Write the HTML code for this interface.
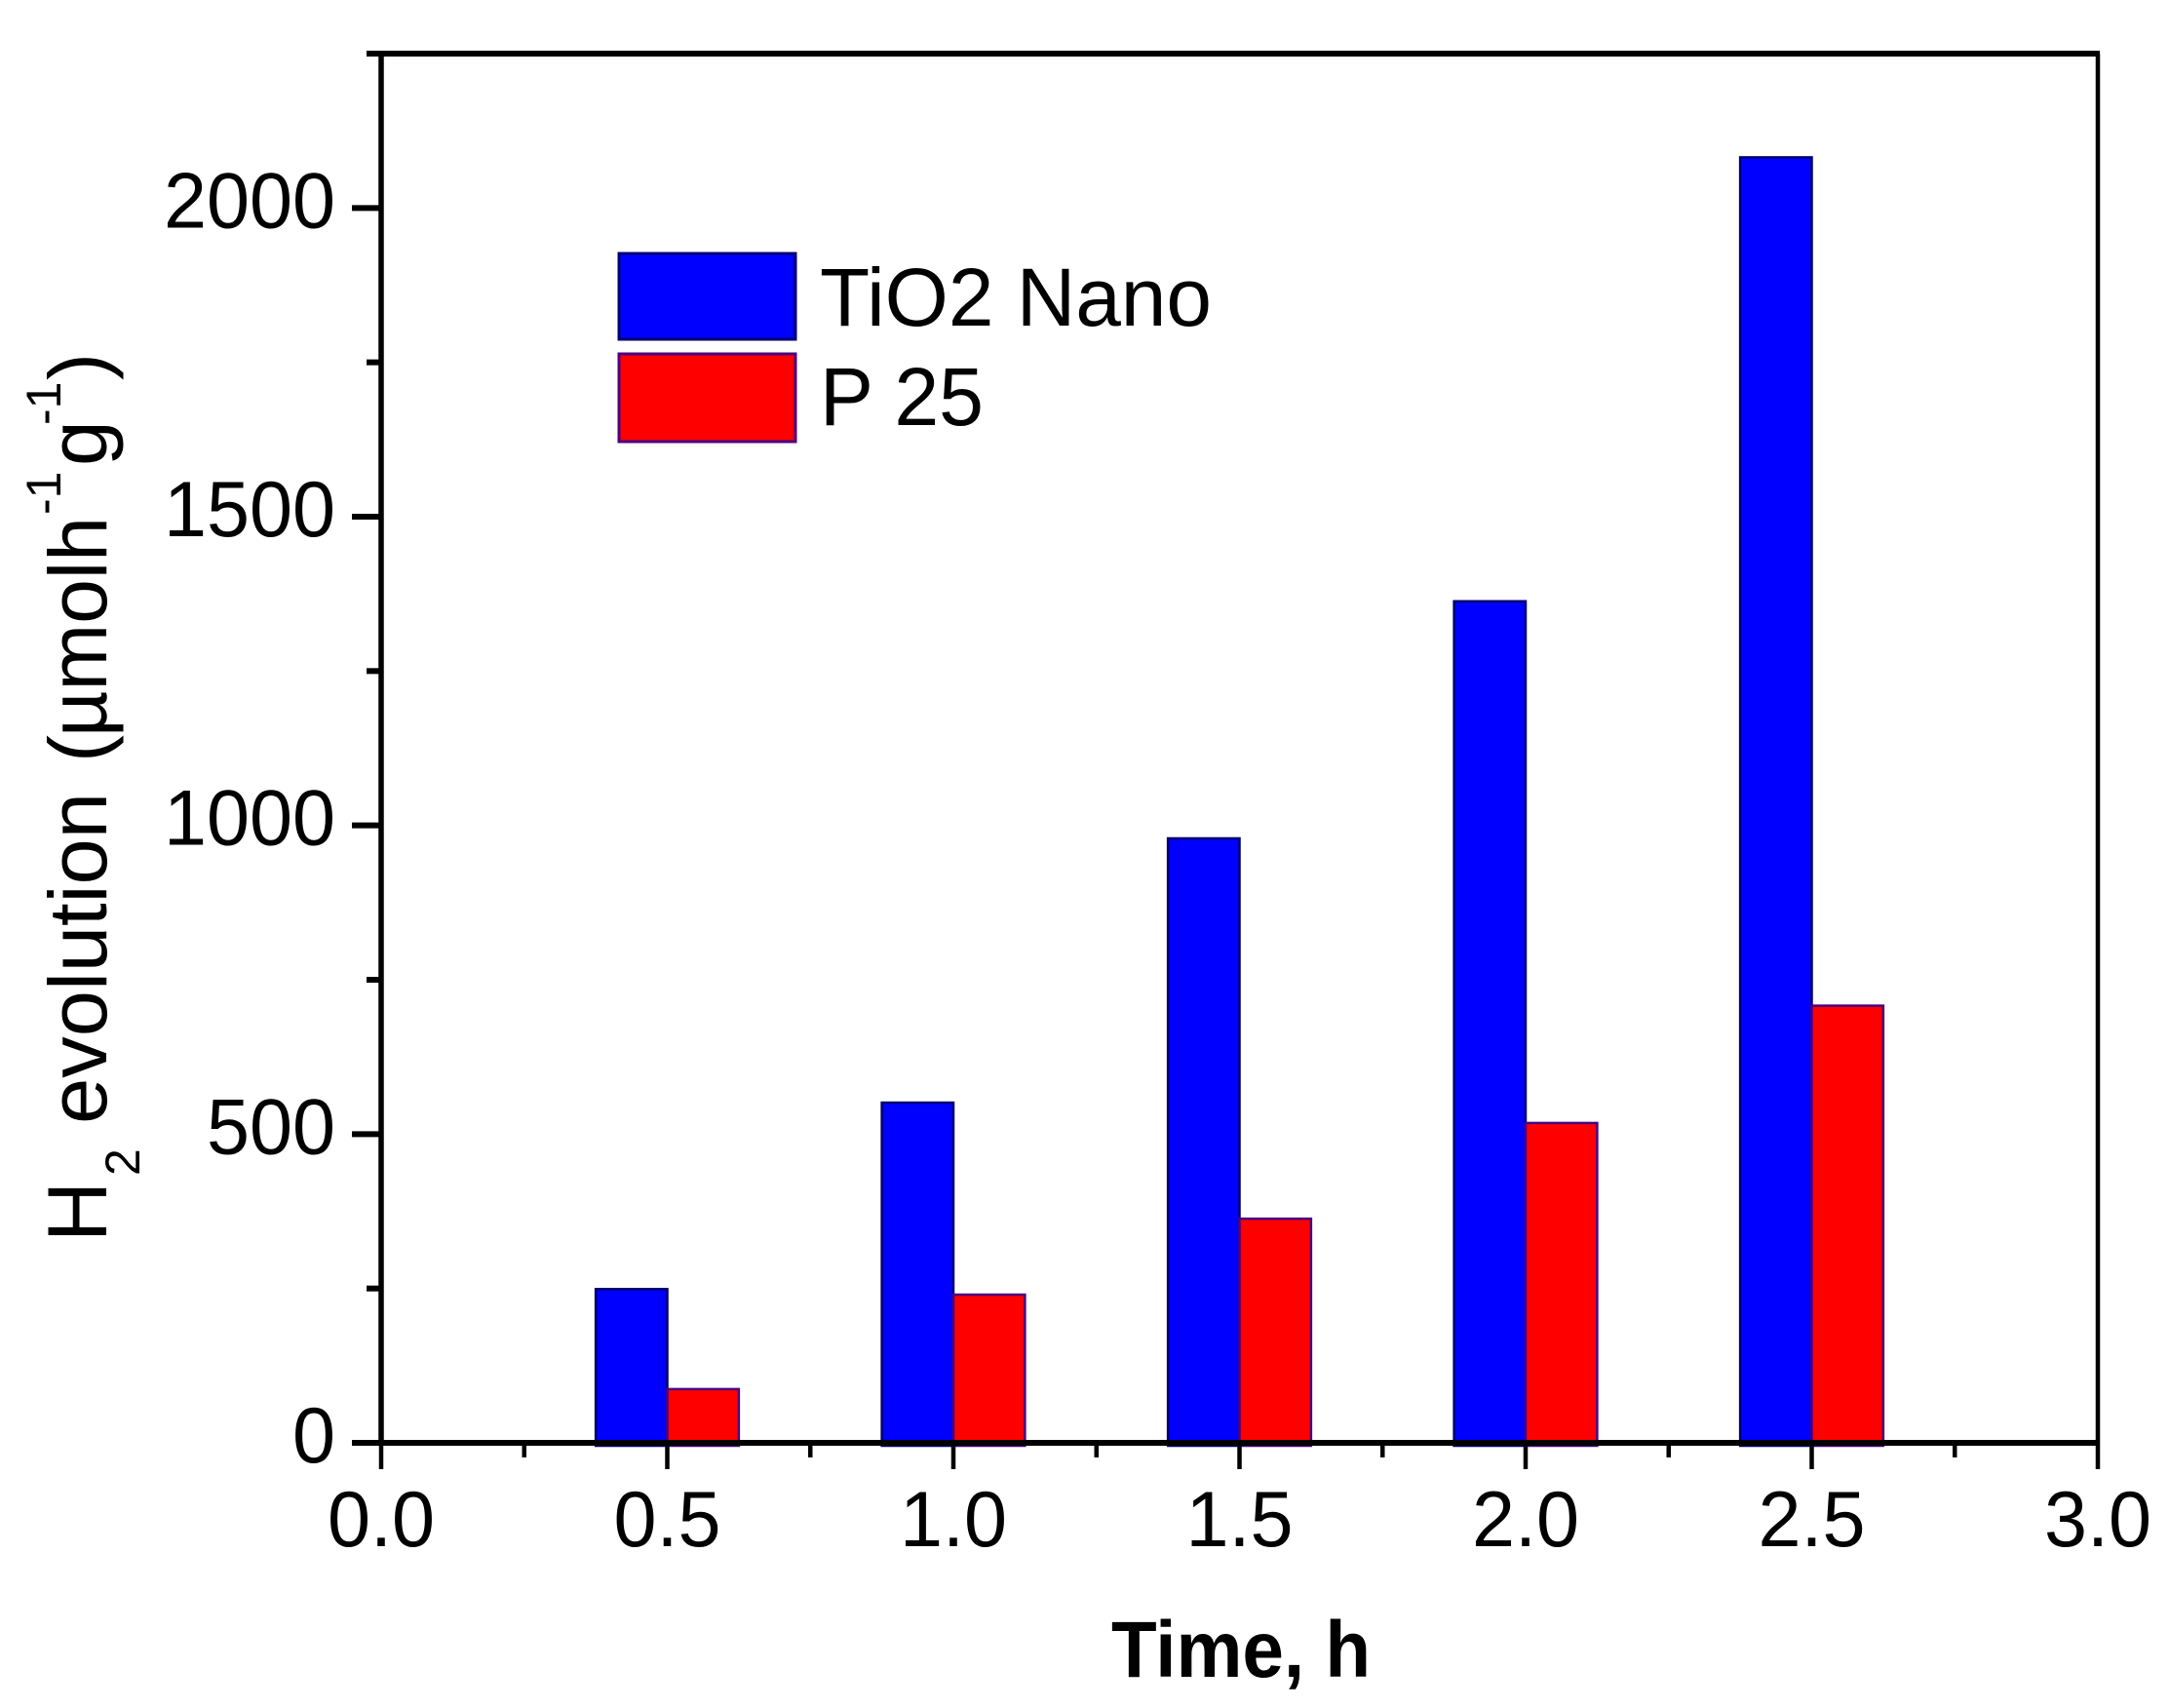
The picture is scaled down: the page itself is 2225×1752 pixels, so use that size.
<!DOCTYPE html>
<html lang="en">
<head>
<meta charset="utf-8">
<title>H2 evolution chart</title>
<style>
  html, body { margin: 0; padding: 0; background: #fff; }
  svg { display: block; }
  text { font-family: "Liberation Sans", sans-serif; fill: #000; }
</style>
</head>
<body>
<svg id="chart" xmlns="http://www.w3.org/2000/svg" width="2225" height="1752" viewBox="0 0 2225 1752">
  <rect x="0" y="0" width="2225" height="1752" fill="#fff"/>
  <g id="bars"></g>
  <g id="axes"></g>
  <g id="tick-labels"></g>

  <g>
    <rect x="635" y="260" width="181" height="88" fill="#0000ff" stroke="#000070" stroke-width="3"/>
    <text x="841" y="334" font-size="84" textLength="402" lengthAdjust="spacingAndGlyphs">TiO2 Nano</text>
    <rect x="635" y="363" width="181" height="90" fill="#ff0000" stroke="#4a0080" stroke-width="3"/>
    <text x="841" y="436" font-size="84" textLength="168" lengthAdjust="spacingAndGlyphs">P 25</text>
  </g>

  <text x="1140" y="1720" font-size="82" font-weight="bold" textLength="266" lengthAdjust="spacingAndGlyphs">Time, h</text>

  <g transform="translate(109,0) rotate(-90)">
    <text x="-1274" y="0" font-size="86">H</text>
    <text x="-1206" y="34" font-size="50">2</text>
    <text x="-1153" y="0" font-size="84" textLength="340" lengthAdjust="spacingAndGlyphs">evolution</text>
    <text x="-782" y="0" font-size="84">(</text>
    <text x="-756" y="0" font-size="84" textLength="226" lengthAdjust="spacingAndGlyphs">µmolh</text>
    <text x="-528" y="-47" font-size="50">-1</text>
    <text x="-478" y="0" font-size="84">g</text>
    <text x="-436" y="-47" font-size="50">-1</text>
    <text x="-390" y="0" font-size="84">)</text>
  </g>
</svg>

<script>
const times = [0.5, 1.0, 1.5, 2.0, 2.5];
const tio2Nano = [249, 551, 979, 1363, 2082];
const p25 = [87, 240, 363, 518, 708];
const xMajorTicks = [0, 0.5, 1, 1.5, 2, 2.5, 3];
const xMinorTicks = [0.25, 0.75, 1.25, 1.75, 2.25, 2.75];
const xTickLabels = ['0.0', '0.5', '1.0', '1.5', '2.0', '2.5', '3.0'];
const yMajorTicks = [0, 500, 1000, 1500, 2000];
const yMinorTicks = [250, 750, 1250, 1750];
const yTickLabels = ['0', '500', '1000', '1500', '2000'];

const SVGNS = 'http://www.w3.org/2000/svg';
const plotLeft = 391, plotRight = 2152, plotBottom = 1480, plotTop = 55;
const xMax = 3, yMax = 2250, barWidth = 0.125;

function xScale(v) { return plotLeft + (v / xMax) * (plotRight - plotLeft); }
function yScale(v) { return plotBottom - (v / yMax) * (plotBottom - plotTop); }
function labelLength(s) {
  let n = 0;
  for (const c of s) { n += c === '.' ? 22 : 44; }
  return n;
}

const barsG = document.getElementById('bars');
const axesG = document.getElementById('axes');
const labelsG = document.getElementById('tick-labels');

function makeBar(x0, x1, value, fill, stroke) {
  const el = document.createElementNS(SVGNS, 'rect');
  el.setAttribute('x', xScale(x0));
  el.setAttribute('y', yScale(value));
  el.setAttribute('width', xScale(x1) - xScale(x0));
  el.setAttribute('height', plotBottom + 3 - yScale(value));
  el.setAttribute('fill', fill);
  el.setAttribute('stroke', stroke);
  el.setAttribute('stroke-width', '2.5');
  return el;
}

times.forEach(function (t, i) {
  const blue = makeBar(t - barWidth, t, tio2Nano[i], '#0000ff', '#000070');
  
  
  barsG.appendChild(blue);
  const red = makeBar(t, t + barWidth, p25[i], '#ff0000', '#4a0080');
  
  
  barsG.appendChild(red);
});

function makeLine(x1, y1, x2, y2, w) {
  const el = document.createElementNS(SVGNS, 'line');
  el.setAttribute('x1', x1);
  el.setAttribute('y1', y1);
  el.setAttribute('x2', x2);
  el.setAttribute('y2', y2);
  el.setAttribute('stroke', '#000');
  el.setAttribute('stroke-width', w);
  return el;
}

const leftAxis = makeLine(plotLeft, plotTop, plotLeft, plotBottom, 5.5);


axesG.appendChild(leftAxis);

const rightAxis = makeLine(plotRight, plotTop, plotRight, plotBottom, 4.5);


axesG.appendChild(rightAxis);

const topAxis = makeLine(376, plotTop, plotRight + 2, plotTop, 6);


axesG.appendChild(topAxis);

const bottomAxis = makeLine(plotLeft, plotBottom, plotRight + 2, plotBottom, 6);


axesG.appendChild(bottomAxis);

xMajorTicks.forEach(function (v) {
  const tick = makeLine(xScale(v), plotBottom, xScale(v), 1507, 4.5);
  
  
  axesG.appendChild(tick);
});
xMinorTicks.forEach(function (v) {
  const tick = makeLine(xScale(v), plotBottom, xScale(v), 1495, 4.5);
  
  
  axesG.appendChild(tick);
});
yMajorTicks.forEach(function (v) {
  const tick = makeLine(361, yScale(v), plotLeft, yScale(v), 6);
  
  
  axesG.appendChild(tick);
});
yMinorTicks.forEach(function (v) {
  const tick = makeLine(376, yScale(v), plotLeft, yScale(v), 6);
  
  
  axesG.appendChild(tick);
});

function makeLabel(str, x, y, anchor) {
  const el = document.createElementNS(SVGNS, 'text');
  el.textContent = str;
  el.setAttribute('x', x);
  el.setAttribute('y', y);
  el.setAttribute('font-size', '81');
  el.setAttribute('text-anchor', anchor);
  el.setAttribute('textLength', labelLength(str));
  el.setAttribute('lengthAdjust', 'spacingAndGlyphs');
  return el;
}

xMajorTicks.forEach(function (v, i) {
  const lab = makeLabel(xTickLabels[i], xScale(v), 1586, 'middle');
  
  
  labelsG.appendChild(lab);
});
yMajorTicks.forEach(function (v, i) {
  const lab = makeLabel(yTickLabels[i], 344, yScale(v) + 20, 'end');
  
  
  labelsG.appendChild(lab);
});
</script>
</body>
</html>
